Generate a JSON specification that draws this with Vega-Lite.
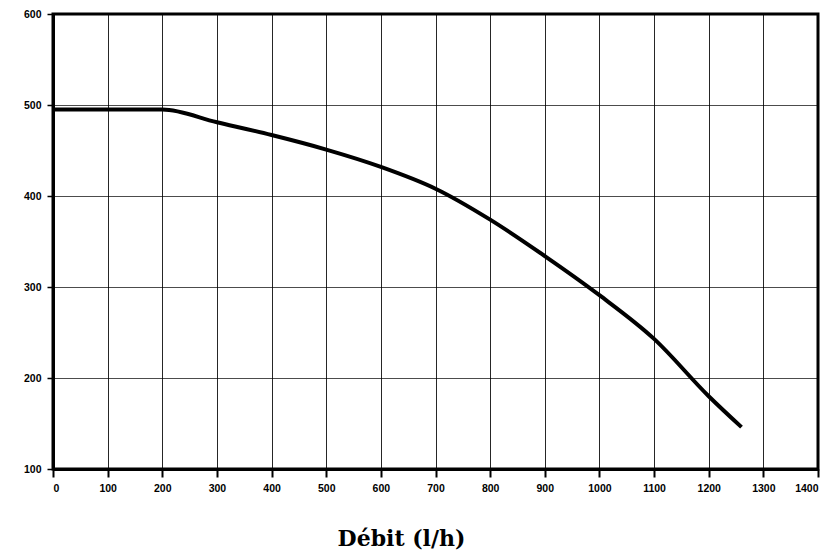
{
  "$schema": "https://vega.github.io/schema/vega-lite/v6.json",
  "width": 765,
  "height": 455,
  "autosize": {"type": "none"},
  "padding": {"left": 53, "top": 14, "right": 21, "bottom": 86},
  "background": "white",
  "config": {
    "view": {"stroke": "black", "strokeWidth": 3},
    "axis": {
      "labelFont": "Liberation Sans",
      "labelFontWeight": "bold",
      "labelFontSize": 10.5,
      "labelColor": "black",
      "tickColor": "black",
      "domainColor": "black",
      "gridColor": "black",
      "gridWidth": 1
    }
  },
  "data": {
    "values": [
      {"q": 0, "h": 495},
      {"q": 200, "h": 495},
      {"q": 300, "h": 481},
      {"q": 400, "h": 467},
      {"q": 500, "h": 451},
      {"q": 600, "h": 432},
      {"q": 700, "h": 408},
      {"q": 800, "h": 374},
      {"q": 900, "h": 334},
      {"q": 1000, "h": 291},
      {"q": 1100, "h": 243},
      {"q": 1200, "h": 180},
      {"q": 1260, "h": 146}
    ]
  },
  "mark": {"type": "line", "color": "black", "strokeWidth": 4, "strokeJoin": "round", "interpolate": "monotone"},
  "encoding": {
    "x": {
      "field": "q",
      "type": "quantitative",
      "scale": {"domain": [0, 1400], "nice": false, "zero": false},
      "axis": {
        "values": [0, 100, 200, 300, 400, 500, 600, 700, 800, 900, 1000, 1100, 1200, 1300, 1400],
        "format": "d",
        "title": "Débit (l/h)",
        "titleFont": "DejaVu Serif",
        "titleFontWeight": "bold",
        "titleFontSize": 22,
        "titleColor": "black",
        "titleX": 348,
        "titleY": 76,
        "titleAlign": "center",
        "titleBaseline": "alphabetic",
        "labelPadding": 6,
        "tickSize": 8,
        "tickWidth": 2,
        "domainWidth": 3,
        "gridOpacity": 0.85
      }
    },
    "y": {
      "field": "h",
      "type": "quantitative",
      "scale": {"domain": [100, 600], "nice": false, "zero": false},
      "axis": {
        "values": [100, 200, 300, 400, 500, 600],
        "format": "d",
        "title": null,
        "tickSize": 6,
        "tickWidth": 1.5,
        "labelPadding": 6,
        "domainWidth": 3,
        "gridOpacity": 0.7
      }
    }
  }
}
